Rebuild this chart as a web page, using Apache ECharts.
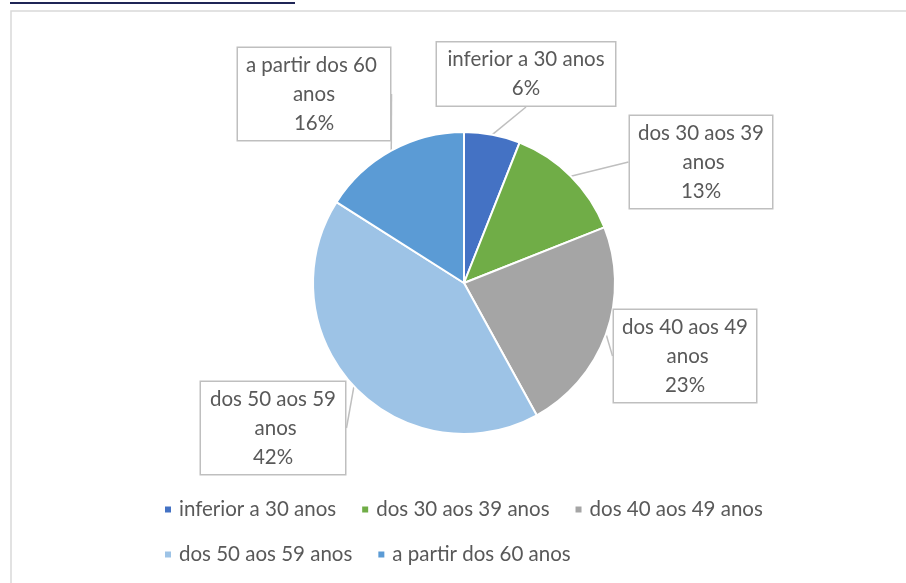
<!DOCTYPE html>
<html>
<head>
<meta charset="utf-8">
<script src="https://cdn.jsdelivr.net/npm/echarts@6/dist/echarts.min.js"></script>
<style>
html,body{margin:0;padding:0;background:#fff;}
#chart{width:906px;height:583px;}
</style>
</head>
<body>
<div id="chart"></div>
<script>
// ---- data ----
var categories = ['inferior a 30 anos', 'dos 30 aos 39 anos', 'dos 40 aos 49 anos', 'dos 50 aos 59 anos', 'a partir dos 60 anos'];
var values = [6, 13, 23, 42, 16];
var colors = ['#4472C4', '#70AD47', '#A5A5A5', '#9DC3E6', '#5B9BD5'];

// ---- layout (label box centres relative to pie centre, and wrap widths) ----
var pieCenter = [464, 283];
var pieRadius = 151;
var labelOffsets = [[62, -209], [237, -121], [221, 73], [-191, 145], [-150, -189]];
var labelWidths = [162, 126, 126, 128, 136];

var FONT = 'Lato, "Open Sans", sans-serif';

var chart = echarts.init(document.getElementById('chart'));
var data = categories.map(function (c, i) {
  return {
    name: c,
    value: values[i],
    itemStyle: { color: colors[i] },
    label: { width: labelWidths[i] }
  };
});

chart.setOption({
  backgroundColor: '#ffffff',
  animation: false,
  graphic: [
    { type: 'line', shape: { x1: 10, y1: 3, x2: 295, y2: 3 }, style: { stroke: '#1f2556', lineWidth: 2 } },
    { type: 'rect', shape: { x: 11, y: 11, width: 1000, height: 700 }, style: { fill: 'none', stroke: '#d9d9d9', lineWidth: 1.5 } }
  ],
  legend: {
    left: 158,
    top: 494,
    width: 680,
    itemGap: 24,
    itemWidth: 8,
    itemHeight: 8,
    icon: 'rect',
    data: categories,
    textStyle: { color: '#595959', fontFamily: FONT, fontSize: 20.5, lineHeight: 18, padding: [0, 0, 0, 2] }
  },
  series: [{
    type: 'pie',
    center: pieCenter,
    radius: pieRadius,
    startAngle: 90,
    clockwise: true,
    data: data,
    itemStyle: { borderColor: '#ffffff', borderWidth: 2 },
    label: {
      show: true,
      position: 'outside',
      formatter: function (p) { return p.name + '\n' + Math.round(p.percent) + '%'; },
      overflow: 'break',
      align: 'center',
      color: '#595959',
      fontFamily: FONT,
      fontSize: 20.5,
      lineHeight: 29,
      backgroundColor: '#ffffff',
      borderColor: '#bfbfbf',
      borderWidth: 1.5,
      padding: [3, 8, 2, 8]
    },
    labelLine: {
      show: true,
      length: 0,
      length2: 0,
      lineStyle: { color: '#bfbfbf', width: 1.5 }
    },
    labelLayout: function (params) {
      var i = params.dataIndex;
      return {
        x: pieCenter[0] + labelOffsets[i][0],
        y: pieCenter[1] + labelOffsets[i][1],
        align: 'center',
        verticalAlign: 'middle'
      };
    }
  }]
});
</script>
</body>
</html>
